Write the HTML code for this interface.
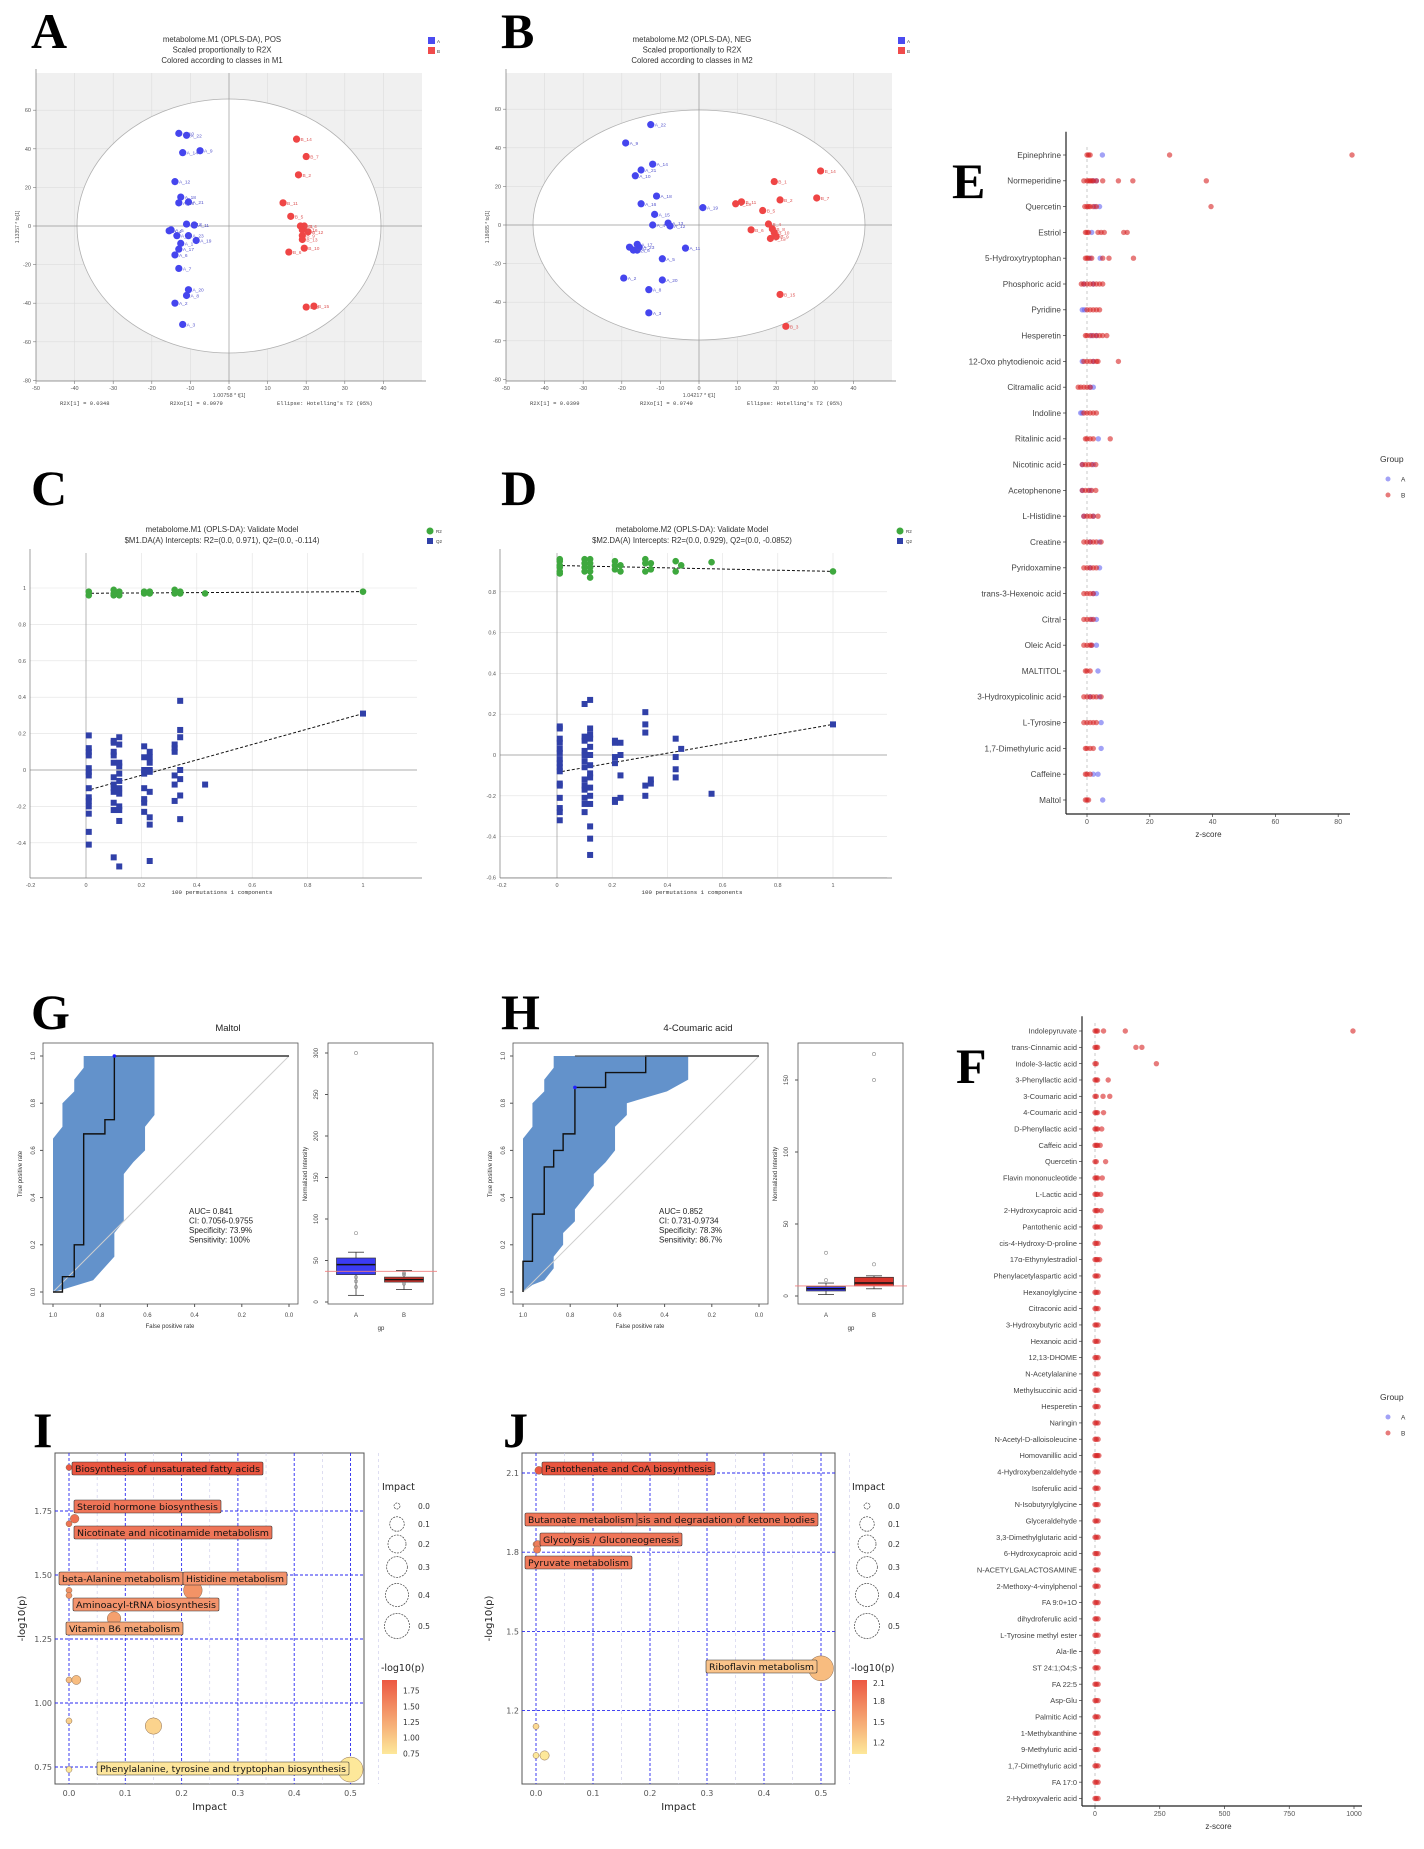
<!DOCTYPE html>
<html><head><meta charset="utf-8">
<style>
html,body{margin:0;padding:0;background:#fff;}
svg{display:block;font-family:"Liberation Sans",sans-serif;}
.mono{font-family:"Liberation Mono",monospace;}
.dj{font-family:"DejaVu Sans","Liberation Sans",sans-serif;}
.letter{font-family:"Liberation Serif",serif;font-weight:bold;font-size:50px;fill:#000;}
</style></head>
<body>
<svg id="fig" width="1424" height="1849" viewBox="0 0 1424 1849" xmlns="http://www.w3.org/2000/svg">
<text class="letter" x="31" y="48">A</text>
<text class="letter" x="501" y="48">B</text>
<text class="letter" x="31" y="505">C</text>
<text class="letter" x="501" y="505">D</text>
<text class="letter" x="952" y="198">E</text>
<text class="letter" x="956" y="1083">F</text>
<text class="letter" x="31" y="1029">G</text>
<text class="letter" x="501" y="1029">H</text>
<text class="letter" x="33" y="1447">I</text>
<text class="letter" x="503" y="1447">J</text>
</svg>
<script>
// ===== Panel A data (scores, POS) =====
const aLabelsA=["A_10","A_22","A_14","A_9","A_12","A_18","A_15","A_21","A_13","A_5","A_11","A_4","A_23","A_16","A_19","A_1","A_17","A_6","A_7","A_20","A_8","A_2","A_3"];
const aXA=[-13,-11,-12,-7.5,-14,-12.5,-13,-10.5,-11,-15,-9,-15.5,-10.5,-13.5,-8.5,-12.5,-13,-14,-13,-10.5,-11,-14,-12];
const aYA=[48,47,38,39,23,15,12,12.5,1,-2,0.5,-2.5,-5,-5,-7.5,-9,-12,-15,-22,-33,-36,-40,-51];
const aLabelsB=["B_14","B_7","B_2","B_11","B_5","B_4","B_1","B_16","B_12","B_9","B_13","B_10","B_6","B_3","B_15"];
const aXB=[17.5,20,18,14,16,19.5,18.5,19,20.5,19,19,19.5,15.5,20,22];
const aYB=[45,36,26.5,12,5,0,0,-2,-3,-5,-7,-11.5,-13.5,-42,-41.5];
// ===== Panel B data (scores, NEG) =====
const bLabelsA=["A_22","A_9","A_14","A_21","A_10","A_18","A_16","A_15","A_13","A_4","A_12","A_19","A_17","A_1","A_23","A_6","A_7","A_11","A_5","A_2","A_20","A_8","A_3"];
const bXA=[-12.5,-19,-12,-15,-16.5,-11,-15,-11.5,-8,-12,-7.5,1,-16,-18,-15.5,-16,-17,-3.5,-9.5,-19.5,-9.5,-13,-13];
const bYA=[52,42.5,31.5,28.5,25.5,15,11,5.5,1,0,-0.5,9,-10,-11.5,-11.5,-13,-13,-12,-17.5,-27.5,-28.5,-33.5,-45.5];
const bLabelsB=["B_14","B_1","B_2","B_7","B_13","B_11","B_5","B_4","B_6","B_8","B_10","B_9","B_12","B_15","B_3"];
const bXB=[31.5,19.5,21,30.5,9.5,11,16.5,18,13.5,19,19.5,20,18.5,21,22.5];
const bYB=[28,22.5,13,14,11,12,7.5,0.5,-2.5,-2,-4,-6,-7,-36,-52.5];
// ===== Panel C data (permutation, M1) =====
const cR2x=[0.01,0.01,0.1,0.1,0.1,0.12,0.12,0.21,0.21,0.23,0.23,0.32,0.32,0.34,0.34,0.43,1];
const cR2y=[0.98,0.96,0.99,0.97,0.96,0.98,0.96,0.98,0.97,0.98,0.97,0.99,0.97,0.98,0.97,0.97,0.98];
const cQ2x=[0.01,0.01,0.01,0.01,0.01,0.01,0.01,0.01,0.01,0.01,0.01,0.01,0.01,0.01,
 0.1,0.1,0.1,0.1,0.1,0.1,0.1,0.1,0.1,0.1,0.1,0.1,
 0.12,0.12,0.12,0.12,0.12,0.12,0.12,0.12,0.12,0.12,0.12,0.12,
 0.21,0.21,0.21,0.21,0.21,0.21,0.21,0.21,
 0.23,0.23,0.23,0.23,0.23,0.23,0.23,0.23,0.23,
 0.32,0.32,0.32,0.32,0.32,0.32,
 0.34,0.34,0.34,0.34,0.34,0.34,0.34,0.43,1];
const cQ2y=[0.19,0.12,0.1,0.08,0.01,-0.01,-0.03,-0.1,-0.15,-0.17,-0.2,-0.24,-0.34,-0.41,
 0.16,0.15,0.1,0.08,0.04,-0.04,-0.08,-0.1,-0.12,-0.18,-0.22,-0.48,
 0.18,0.14,0.04,0.02,-0.02,-0.06,-0.1,-0.13,-0.2,-0.22,-0.28,-0.53,
 0.13,0.07,0,-0.02,-0.1,-0.16,-0.18,-0.23,
 0.1,0.07,0.04,0,-0.01,-0.12,-0.26,-0.3,-0.5,
 0.14,0.12,0.1,-0.03,-0.08,-0.17,
 0.38,0.22,0.18,0,-0.05,-0.14,-0.27,-0.08,0.31];
const cR2line=[0.971,0.98], cQ2line=[-0.114,0.31];
// ===== Panel D data (permutation, M2) =====
const dR2x=[0.01,0.01,0.01,0.01,0.01,0.01,0.1,0.1,0.1,0.1,0.12,0.12,0.12,0.12,0.12,0.21,0.21,0.21,0.23,0.23,0.32,0.32,0.32,0.34,0.34,0.43,0.43,0.45,0.56,1];
const dR2y=[0.96,0.95,0.93,0.92,0.9,0.89,0.96,0.94,0.92,0.9,0.96,0.94,0.92,0.9,0.87,0.95,0.93,0.91,0.93,0.9,0.96,0.94,0.9,0.94,0.91,0.95,0.9,0.93,0.945,0.9];
const dQ2x=[0.01,0.01,0.01,0.01,0.01,0.01,0.01,0.01,0.01,0.01,0.01,0.01,0.01,0.01,0.01,0.01,
 0.1,0.1,0.1,0.1,0.1,0.1,0.1,0.1,0.1,0.1,0.1,0.1,0.1,
 0.12,0.12,0.12,0.12,0.12,0.12,0.12,0.12,0.12,0.12,0.12,0.12,0.12,0.12,0.12,
 0.21,0.21,0.21,0.21,0.21,0.21,0.23,0.23,0.23,0.23,
 0.32,0.32,0.32,0.32,0.32,0.34,0.34,0.43,0.43,0.43,0.43,0.45,0.56,1];
const dQ2y=[0.14,0.13,0.08,0.06,0.03,0.01,-0.02,-0.04,-0.06,-0.08,-0.14,-0.15,-0.21,-0.26,-0.28,-0.32,
 0.25,0.09,0.07,0.02,0,-0.03,-0.06,-0.12,-0.15,-0.17,-0.21,-0.24,-0.28,
 0.27,0.13,0.1,0.08,0.04,0,-0.05,-0.09,-0.11,-0.16,-0.2,-0.24,-0.35,-0.41,-0.49,
 0.07,0.06,-0.01,-0.04,-0.22,-0.23,0.06,0,-0.1,-0.21,
 0.21,0.15,0.11,-0.15,-0.2,-0.12,-0.14,0.08,-0.01,-0.07,-0.11,0.03,-0.19,0.15];
const dR2line=[0.929,0.9], dQ2line=[-0.0852,0.15];
// ===== Panel E data =====
const eNames=["Epinephrine","Normeperidine","Quercetin","Estriol","5-Hydroxytryptophan","Phosphoric acid","Pyridine","Hesperetin","12-Oxo phytodienoic acid","Citramalic acid","Indoline","Ritalinic acid","Nicotinic acid","Acetophenone","L-Histidine","Creatine","Pyridoxamine","trans-3-Hexenoic acid","Citral","Oleic Acid","MALTITOL","3-Hydroxypicolinic acid","L-Tyrosine","1,7-Dimethyluric acid","Caffeine","Maltol"];
const eB=[[0,0.5,1,26.3,84.4],[-1,0,0.5,1,1.5,2,3,5,10,14.6,38],[-0.7,0,0.5,1,2,3,39.5],[-0.5,0,0.5,3.5,4.5,5.5,11.7,12.8],[-0.5,0,0.5,1.5,5,7,14.8],[-1.8,-1,0,1,2,3,4,5],[0,1,2,3,4],[-0.5,0,1,2,3,4,5,6.3],[-1,0,1,2,3,3.5,10],[-2.8,-2,-1,0,1],[-1,0,1,2,3],[-0.5,0,1,2,7.4],[-1.5,-0.5,0.5,1.5,2.8],[-1.5,-0.5,0.5,1.5,2.8],[-1,0,1,2,3.5],[-1,0,1,2,3,4.5],[-1,0,1,2,3],[-1,0,1,2],[-1,0,1,2],[-1,0,1,1.5],[-0.5,0,1],[-1,0,1,2,3,4.5],[-1,0,1,2,3],[-0.5,0,1,2],[-0.5,0,1],[-0.5,0,0.5]];
const eA=[[4.9],[2,3],[2.5,4],[1.5],[1,4.2],[-1,2],[-1.5,-0.8],[1.5,3],[-1.5,2],[1,2],[-2,-1.5],[3.6],[-1.5,2],[-1.5,1],[-1,2],[1,4],[1,4],[2,3],[1.5,3],[1.5,3],[3.5],[1,4],[4.5],[4.5],[2,3.5],[5]];
const eTicks=[0,20,40,60,80];
// ===== Panel F data =====
const fNames=["Indolepyruvate","trans-Cinnamic acid","Indole-3-lactic acid","3-Phenyllactic acid","3-Coumaric acid","4-Coumaric acid","D-Phenyllactic acid","Caffeic acid","Quercetin","Flavin mononucleotide","L-Lactic acid","2-Hydroxycaproic acid","Pantothenic acid","cis-4-Hydroxy-D-proline","17α-Ethynylestradiol","Phenylacetylaspartic acid","Hexanoylglycine","Citraconic acid","3-Hydroxybutyric acid","Hexanoic acid","12,13-DHOME","N-Acetylalanine","Methylsuccinic acid","Hesperetin","Naringin","N-Acetyl-D-alloisoleucine","Homovanillic acid","4-Hydroxybenzaldehyde","Isoferulic acid","N-Isobutyrylglycine","Glyceraldehyde","3,3-Dimethylglutaric acid","6-Hydroxycaproic acid","N-ACETYLGALACTOSAMINE","2-Methoxy-4-vinylphenol","FA 9:0+1O","dihydroferulic acid","L-Tyrosine methyl ester","Ala-Ile","ST 24:1;O4;S","FA 22:5","Asp-Glu","Palmitic Acid","1-Methylxanthine","9-Methyluric acid","1,7-Dimethyluric acid","FA 17:0","2-Hydroxyvaleric acid"];
const fB=[[0,5,10,33,117,996],[0,5,10,158,181],[0,5,237],[0,5,10,51],[0,5,31,57],[0,5,10,33],[0,5,10,26],[0,5,10,20],[0,5,41],[0,5,10,28],[0,5,10,22],[0,5,10,24],[0,5,10,20],[0,5,12],[0,5,10,18],[0,5,12],[0,5,12],[0,5,12],[0,5,12],[0,5,12],[0,5,12],[0,5,12],[0,5,12],[0,5,12],[0,5,12],[0,5,12],[0,5,10,15],[0,5,12],[0,5,12],[0,5,12],[0,5,12],[0,5,12],[0,5,12],[0,5,12],[0,5,12],[0,5,12],[0,5,12],[0,5,12],[0,5,12],[0,5,12],[0,5,12],[0,5,12],[0,5,12],[0,5,12],[0,5,12],[0,5,12],[0,5,12],[0,5,12]];
const fTicks=[0,250,500,750,1000];
// ===== Panel G / H data (ROC + boxplot) =====
const gRocSpec=[1,0.96,0.96,0.91,0.91,0.87,0.87,0.78,0.78,0.74,0.74,0];
const gRocSens=[0,0,0.065,0.065,0.2,0.2,0.67,0.67,0.73,0.73,1,1];
const gBandSpec=[1,1,0.96,0.96,0.91,0.91,0.87,0.87,0.57,0.57,0.61,0.61,0.66,0.7,0.7,0.74,0.74,0.83,0.96,1];
const gBandSens=[0,0.65,0.7,0.8,0.85,0.9,0.95,1,1,0.75,0.7,0.6,0.55,0.5,0.3,0.25,0.15,0.05,0.01,0];
const gBest=[0.74,1];
const gBoxA=[8,33,45,53,60], gBoxB=[15,24,27,30,38], gOutA=[83,300,30,25,18], gOutB=[35,33,22], gCut=37;
const hRocSpec=[1,1,0.96,0.96,0.91,0.91,0.87,0.87,0.83,0.83,0.78,0.78,0.65,0.65,0.48,0.48,0];
const hRocSens=[0,0.13,0.13,0.33,0.33,0.53,0.53,0.6,0.6,0.67,0.67,0.867,0.867,0.93,0.93,1,1];
const hBandSpec=[1,1,0.96,0.96,0.91,0.91,0.87,0.87,0.3,0.3,0.39,0.56,0.56,0.61,0.61,0.65,0.7,0.7,0.74,0.78,0.78,0.83,0.83,0.87,0.87,0.91,0.96,1];
const hBandSens=[0,0.65,0.7,0.8,0.85,0.9,0.95,1,1,0.9,0.85,0.8,0.75,0.7,0.6,0.55,0.5,0.45,0.4,0.35,0.3,0.25,0.2,0.15,0.1,0.05,0.03,0];
const hBest=[0.78,0.867];
const hBoxA=[1,3.5,5,6.5,9], hBoxB=[5,7,9,13,14], hOutA=[30,11], hOutB=[22,150,168], hCut=7;
// ===== Panel I / J data (pathway bubbles) =====
const iImpact=[0,0.01,0,0,0.22,0,0.08,0,0.013,0,0.15,0,0.5];
const iLogp=[1.92,1.72,1.70,1.44,1.44,1.42,1.33,1.09,1.09,0.93,0.91,0.74,0.74];
const jImpact=[0.005,0,0.003,0.002,0.5,0,0,0.015];
const jLogp=[2.11,1.83,1.83,1.81,1.36,1.14,1.03,1.03];

const NS="http://www.w3.org/2000/svg";
const svg=document.getElementById('fig');
function mk(tag,attrs,parent){const e=document.createElementNS(NS,tag);for(const k in attrs)e.setAttribute(k,attrs[k]);(parent||svg).appendChild(e);return e;}
function tx(x,y,s,size,attrs){const e=mk('text',Object.assign({x:x,y:y,'font-size':size},attrs||{}));e.textContent=s;return e;}
function grp(){return mk('g',{});}

// ---------- Scores plots ----------
function scores(ox,cy,rx,ry,ecx,LA,XA,YA,LB,XB,YB,titles,ylab,xlab,foot,key){
  const x0=ox+229-(ox===0?0:0), xs=v=>ox+229+(ox?-0:0)+v*3.86-(ox?0:0);
  const X=v=>ecx+v*3.86, Y=v=>cy-v*1.93;
  const L=X(-50),R=X(50),T=73,B=381;
  const g=grp();
  
  
  mk('rect',{x:L,y:T,width:R-L,height:B-T,fill:'#f0f0f0'},g);
  for(let v=-40;v<=40;v+=10){mk('line',{x1:X(v),x2:X(v),y1:T,y2:B,stroke:'#dcdcdc','stroke-width':0.6},g);}
  for(let v=-60;v<=60;v+=20){mk('line',{x1:L,x2:R,y1:Y(v),y2:Y(v),stroke:'#dcdcdc','stroke-width':0.6},g);}
  const el=mk('ellipse',{cx:X(0),cy:cy,rx:rx,ry:ry,fill:'#fff',stroke:'#b0b0b0','stroke-width':0.8},g);
  
  
  mk('line',{x1:X(0),x2:X(0),y1:T,y2:B,stroke:'#999','stroke-width':0.7},g);
  mk('line',{x1:L,x2:R,y1:Y(0),y2:Y(0),stroke:'#999','stroke-width':0.7},g);
  mk('line',{x1:L,x2:L,y1:T-4,y2:B,stroke:'#777','stroke-width':0.7},g);
  mk('line',{x1:L,x2:R+4,y1:B,y2:B,stroke:'#777','stroke-width':0.7},g);
  for(let v=-50;v<=40;v+=10){mk('line',{x1:X(v),x2:X(v),y1:B,y2:B+3,stroke:'#777','stroke-width':0.6},g);tx(X(v),B+9,String(v),5.5,{'text-anchor':'middle',fill:'#555'});}
  for(let v=-80;v<=60;v+=20){mk('line',{x1:L-3,x2:L,y1:Y(v),y2:Y(v),stroke:'#777','stroke-width':0.6},g);tx(L-5,Y(v)+2,String(v),5.5,{'text-anchor':'end',fill:'#555'});}
  titles.forEach((t,i)=>{const e=tx(ox+222,42+i*10.5,t,7.8,{'text-anchor':'middle',fill:'#333'});});
  const yl=tx(0,0,ylab,5,{'text-anchor':'middle',fill:'#555',transform:'translate('+(ox+19)+',227) rotate(-90)'});
  
  const xl=tx(ox+229,397,xlab,5.5,{'text-anchor':'middle',fill:'#555'});
  
  foot.forEach((f,i)=>{const e=tx(ox+[60,170,277][i],405,f,5.5,{class:'mono',fill:'#444'});});
  [['#4b4bf0','A',37],['#f04b4b','B',47]].forEach(c=>{const r=mk('rect',{x:ox+428,y:c[2],width:7,height:7,fill:c[0]});tx(ox+437,c[2]+6,c[1],4.5,{fill:'#333'});});
  function pts(Ls,Xs,Ys,col,grpname){Ls.forEach((l,i)=>{const c=mk('circle',{cx:X(Xs[i]),cy:Y(Ys[i]),r:3.6,fill:col},g);
    
    
    tx(X(Xs[i])+4,Y(Ys[i])+2,l,4.8,{fill:col==='#4545ee'?'#5555cc':'#dd5555'});});}
  pts(LA,XA,YA,'#4545ee','group-a');pts(LB,XB,YB,'#ef4545','group-b');
}
scores(0,226,152,127,229,aLabelsA,aXA,aYA,aLabelsB,aXB,aYB,["metabolome.M1 (OPLS-DA), POS","Scaled proportionally to R2X","Colored according to classes in M1"],"1.13357 * to[1]","1.00758 * t[1]",["R2X[1] = 0.0348","R2Xo[1] = 0.0979","Ellipse: Hotelling's T2 (95%)"],'a');
scores(470,225,166,115,699,bLabelsA,bXA,bYA,bLabelsB,bXB,bYB,["metabolome.M2 (OPLS-DA), NEG","Scaled proportionally to R2X","Colored according to classes in M2"],"1.18685 * to[1]","1.04217 * t[1]",["R2X[1] = 0.0399","R2Xo[1] = 0.0749","Ellipse: Hotelling's T2 (95%)"],'b');

// ---------- Permutation plots ----------
function perm(ox,x0,kx,y0,ky,R2x,R2y,Q2x,Q2y,r2l,q2l,titles,key){
  const X=v=>x0+v*kx, Y=v=>y0-v*ky;
  const L=ox+30,R=ox+417,T=553,B=878;
  const g=grp();
  
  
  for(let v=-0.6;v<=1.21;v+=0.2){const y=Y(v);if(y>=T&&y<=B)mk('line',{x1:L,x2:R,y1:y,y2:y,stroke:'#e2e2e2','stroke-width':0.6},g);}
  for(let v=0.2;v<=1.01;v+=0.2){mk('line',{x1:X(v),x2:X(v),y1:T,y2:B,stroke:'#e2e2e2','stroke-width':0.6},g);}
  mk('line',{x1:X(0),x2:X(0),y1:T,y2:B,stroke:'#999','stroke-width':0.7},g);
  mk('line',{x1:L,x2:R,y1:Y(0),y2:Y(0),stroke:'#999','stroke-width':0.7},g);
  mk('line',{x1:L,x2:L,y1:T-4,y2:B,stroke:'#777','stroke-width':0.7},g);
  mk('line',{x1:L,x2:R+5,y1:B,y2:B,stroke:'#777','stroke-width':0.7},g);
  [-0.2,0,0.2,0.4,0.6,0.8,1].forEach(v=>{tx(X(v),B+9,String(v),5.5,{'text-anchor':'middle',fill:'#555'});});
  for(let k=-3;k<=6;k++){const v=k*0.2,y=Y(v);if(y>=T-1&&y<=B+1){tx(L-4,y+2,String(Math.round(v*10)/10),5.5,{'text-anchor':'end',fill:'#555'});}}
  titles.forEach((t,i)=>{const e=tx(ox+222,532+i*11,t,7.8,{'text-anchor':'middle',fill:'#333'});});
  tx(ox+222,894,"100 permutations 1 components",5.8,{'text-anchor':'middle',class:'mono',fill:'#333'});
  const l1=mk('line',{x1:X(0),y1:Y(r2l[0]),x2:X(1),y2:Y(r2l[1]),stroke:'#111','stroke-width':1,'stroke-dasharray':'3,2'},g);
  
  const l2=mk('line',{x1:X(0),y1:Y(q2l[0]),x2:X(1),y2:Y(q2l[1]),stroke:'#111','stroke-width':1,'stroke-dasharray':'3,2'},g);
  
  R2x.forEach((x,i)=>{const c=mk('circle',{cx:X(x),cy:Y(R2y[i]),r:3.3,fill:'#3ea83e'},g);
    
    });
  Q2x.forEach((x,i)=>{const c=mk('rect',{x:X(x)-3,y:Y(Q2y[i])-3,width:6,height:6,fill:'#3040a8'},g);
    
    });
  const a=mk('circle',{cx:ox+430,cy:531,r:3.5,fill:'#3ea83e'});
  tx(ox+436,533,'R2',4.5,{fill:'#333'});
  const b=mk('rect',{x:ox+427,y:538,width:6,height:6,fill:'#3040a8'});
  tx(ox+436,543,'Q2',4.5,{fill:'#333'});
}
perm(0,86,277,770,182,cR2x,cR2y,cQ2x,cQ2y,cR2line,cQ2line,["metabolome.M1 (OPLS-DA): Validate Model","$M1.DA(A) Intercepts: R2=(0.0, 0.971), Q2=(0.0, -0.114)"],'c');
perm(470,557,276,755,204,dR2x,dR2y,dQ2x,dQ2y,dR2line,dQ2line,["metabolome.M2 (OPLS-DA): Validate Model","$M2.DA(A) Intercepts: R2=(0.0, 0.929), Q2=(0.0, -0.0852)"],'d');

// ---------- Z-score dot plots ----------
function zplot(names,Bv,Av,ticks,x0,kx,y0,dy,axisX,axisEnd,axisY,labSize,key,legY){
  const X=v=>x0+v*kx;
  const g=grp();
  
  
  const yEnd=y0+(names.length-1)*dy;
  mk('line',{x1:X(0),x2:X(0),y1:y0-8,y2:axisY,stroke:'#bbb','stroke-width':0.8,'stroke-dasharray':'3,3'},g);
  mk('line',{x1:axisX,x2:axisX,y1:y0-dy*0.9,y2:axisY,stroke:'#222','stroke-width':1.2},g);
  mk('line',{x1:axisX,x2:axisEnd,y1:axisY,y2:axisY,stroke:'#222','stroke-width':1.2},g);
  names.forEach((n,i)=>{const y=y0+i*dy;
    const t=tx(axisX-5,y+labSize*0.35,n,labSize,{'text-anchor':'end',fill:'#444'});
    
    
    mk('line',{x1:axisX-3,x2:axisX,y1:y,y2:y,stroke:'#333','stroke-width':0.7},g);
    Av[i].forEach(v=>{const c=mk('circle',{cx:X(v),cy:y,r:2.7,fill:'rgba(100,100,240,0.6)'},g);
      
      });
    Bv[i].forEach(v=>{const c=mk('circle',{cx:X(v),cy:y,r:2.7,fill:'rgba(215,35,35,0.6)'},g);
      
      });
  });
  ticks.forEach(v=>{mk('line',{x1:X(v),x2:X(v),y1:axisY,y2:axisY+3,stroke:'#333','stroke-width':0.7},g);
    const t=tx(X(v),axisY+10,String(v),7,{'text-anchor':'middle',fill:'#555'});});
  tx((X(0)+axisEnd)/2-10,axisY+23,'z-score',8,{'text-anchor':'middle',fill:'#333'});
  tx(1380,legY,'Group',8.5,{fill:'#333'});
  const a=mk('circle',{cx:1388,cy:legY+17,r:2.5,fill:'rgba(100,100,240,0.6)'});
  tx(1401,legY+19.5,'A',6.5,{fill:'#333'});
  const b=mk('circle',{cx:1388,cy:legY+33,r:2.5,fill:'rgba(215,35,35,0.6)'});
  tx(1401,legY+35.5,'B',6.5,{fill:'#333'});
}
zplot(eNames,eB,eA,eTicks,1087,3.14,155,25.8,1066,1350,814,8.2,'e',462);
zplot(fNames,fB,fB.map(()=>[]),fTicks,1095,0.259,1031,16.33,1082,1362,1806,7.4,'f',1400);

// ---------- ROC + box ----------
function roc(ox,title,spec,sens,bSpec,bSens,best,stats,boxA,boxB,outA,outB,cut,bY0,bK,bTicks,key){
  const X=s=>ox+53+(1-s)*236, Y=v=>1292-v*236;
  const g=grp();
  
  
  mk('rect',{x:ox+43,y:1043,width:255,height:261,fill:'none',stroke:'#555','stroke-width':0.8},g);
  const band=mk('polygon',{points:bSpec.map((s,i)=>X(s)+','+Y(bSens[i])).join(' '),fill:'#6392cb'},g);
  
  
  mk('line',{x1:X(1),y1:Y(0),x2:X(0),y2:Y(1),stroke:'#cfcfcf','stroke-width':1},g);
  const curve=mk('polyline',{points:spec.map((s,i)=>X(s)+','+Y(sens[i])).join(' '),fill:'none',stroke:'#111','stroke-width':1.4},g);
  
  
  mk('line',{x1:X(best[0]),y1:Y(1),x2:X(0),y2:Y(1),stroke:'#555','stroke-width':1.2},g);
  const bd=mk('circle',{cx:X(best[0]),cy:Y(best[1]),r:1.8,fill:'#2020ff'},g);
  
  [1,0.8,0.6,0.4,0.2,0].forEach(s=>{mk('line',{x1:X(s),x2:X(s),y1:1304,y2:1307,stroke:'#555'},g);tx(X(s),1317,s.toFixed(1),6,{'text-anchor':'middle',fill:'#444'});});
  [0,0.2,0.4,0.6,0.8,1].forEach(v=>{mk('line',{x1:ox+40,x2:ox+43,y1:Y(v),y2:Y(v),stroke:'#555'},g);tx(0,0,v.toFixed(1),6,{'text-anchor':'middle',fill:'#444',transform:'translate('+(ox+35)+','+Y(v)+') rotate(-90)'});});
  tx(0,0,'True positive rate',6,{'text-anchor':'middle',fill:'#333',transform:'translate('+(ox+22)+',1174) rotate(-90)'});
  tx(ox+170,1328,'False positive rate',6,{'text-anchor':'middle',fill:'#333'});
  const tt=tx(ox+228,1031,title,9.5,{'text-anchor':'middle',fill:'#222'});
  stats.forEach((s,i)=>{tx(ox+189,1214+i*9.5,s,8,{fill:'#222'});});
  // box plot
  const bg=grp();
  
  
  const BY=v=>bY0-v*bK;
  mk('rect',{x:ox+328,y:1043,width:105,height:261,fill:'none',stroke:'#555','stroke-width':0.8},bg);
  bTicks.forEach(v=>{mk('line',{x1:ox+325,x2:ox+328,y1:BY(v),y2:BY(v),stroke:'#555'},bg);tx(0,0,String(v),6,{'text-anchor':'middle',fill:'#444',transform:'translate('+(ox+318)+','+BY(v)+') rotate(-90)'});});
  tx(0,0,'Normalized Intensity',6,{'text-anchor':'middle',fill:'#333',transform:'translate('+(ox+307)+',1174) rotate(-90)'});
  [[boxA,outA,ox+356,'#3b3bf5','A'],[boxB,outB,ox+404,'#d8342c','B']].forEach(b=>{const s=b[0],cx=b[2];
    mk('line',{x1:cx,x2:cx,y1:BY(s[0]),y2:BY(s[4]),stroke:'#333','stroke-width':0.8},bg);
    mk('line',{x1:cx-8,x2:cx+8,y1:BY(s[0]),y2:BY(s[0]),stroke:'#333','stroke-width':0.8},bg);
    mk('line',{x1:cx-8,x2:cx+8,y1:BY(s[4]),y2:BY(s[4]),stroke:'#333','stroke-width':0.8},bg);
    const r=mk('rect',{x:cx-19.5,y:BY(s[3]),width:39,height:Math.max(2,BY(s[1])-BY(s[3])),fill:b[3],stroke:'#333','stroke-width':0.7},bg);
    
    
    mk('line',{x1:cx-19.5,x2:cx+19.5,y1:BY(s[2]),y2:BY(s[2]),stroke:'#111','stroke-width':1.5},bg);
    b[1].forEach(v=>{const o=mk('circle',{cx:cx,cy:BY(v),r:1.6,fill:'none',stroke:'#888','stroke-width':0.6},bg);});
    tx(cx,1317,b[4],6,{'text-anchor':'middle',fill:'#444'});});
  mk('line',{x1:ox+325,x2:ox+437,y1:BY(cut),y2:BY(cut),stroke:'#f08080','stroke-width':0.8},bg);
  tx(ox+381,1330,'gp',6,{'text-anchor':'middle',fill:'#333'});
}
roc(0,'Maltol',gRocSpec,gRocSens,gBandSpec,gBandSens,gBest,["AUC= 0.841","CI: 0.7056-0.9755","Specificity: 73.9%","Sensitivity: 100%"],gBoxA,gBoxB,gOutA,gOutB,gCut,1302,0.83,[0,50,100,150,200,250,300],'g');
roc(470,'4-Coumaric acid',hRocSpec,hRocSens,hBandSpec,hBandSens,hBest,["AUC= 0.852","CI: 0.731-0.9734","Specificity: 78.3%","Sensitivity: 86.7%"],hBoxA,hBoxB,hOutA,hOutB,hCut,1296,1.44,[0,50,100,150],'h');

// ---------- Pathway bubble plots ----------
function lerpCol(t){t=Math.max(0,Math.min(1,t));const a=[253,232,154],b=[236,88,66];return 'rgb('+a.map((v,i)=>Math.round(v+(b[i]-v)*t)).join(',')+')';}
function rad(im){return 3+Math.sqrt(im/0.5)*9.5;}
function bubble(ox,L,R,T,B,X,Y,xt,yt,ytl,imp,lp,lpMin,lpMax,labels,cbTicks,key){
  const g=grp();
  
  
  mk('rect',{x:L,y:T,width:R-L,height:B-T,fill:'#fff',stroke:'#555','stroke-width':1},g);
  xt.forEach(v=>{mk('line',{x1:X(v+0.05),x2:X(v+0.05),y1:T,y2:B,stroke:'#c8c8e8','stroke-width':0.6,'stroke-dasharray':'3,3'},g);});
  yt.forEach(v=>{mk('line',{x1:L,x2:R,y1:Y(v),y2:Y(v),stroke:'#2a2af0','stroke-width':0.9,'stroke-dasharray':'3,2'},g);
    tx(L-3,Y(v)+3,ytl(v),8,{'text-anchor':'end',fill:'#555',class:'dj'});});
  xt.forEach(v=>{mk('line',{x1:X(v),x2:X(v),y1:T,y2:B,stroke:'#2a2af0','stroke-width':0.9,'stroke-dasharray':'3,2'},g);
    tx(X(v),B+12,v.toFixed(1),8,{'text-anchor':'middle',fill:'#555',class:'dj'});});
  tx((L+R)/2,B+26,'Impact',10,{'text-anchor':'middle',fill:'#222',class:'dj'});
  tx(0,0,'-log10(p)',10,{'text-anchor':'middle',fill:'#222',class:'dj',transform:'translate('+(L-30)+','+((T+B)/2)+') rotate(-90)'});
  imp.forEach((v,i)=>{const c=mk('circle',{cx:X(v),cy:Y(lp[i]),r:rad(v),fill:lerpCol((lp[i]-lpMin)/(lpMax-lpMin)),stroke:'#8a6a50','stroke-width':0.5},g);
    
    });
  labels.forEach(l=>{const r=mk('rect',{x:l[1],y:l[2],width:l[3],height:13,fill:l[4],stroke:'#333','stroke-width':0.6,rx:1.5},g);
    
    
    const t=tx(l[1]+3,l[2]+10,l[0],8.6,{fill:'#111',class:'dj',textLength:l[3]-6,lengthAdjust:'spacingAndGlyphs'});
    
    });
  // legends
  const lx=ox+397;
  tx(ox+382,1490,'Impact',9.5,{fill:'#222',class:'dj'});
  [0,0.1,0.2,0.3,0.4,0.5].forEach((v,i)=>{const cy=[1506,1524,1544,1567,1595,1626][i];
    const c=mk('circle',{cx:lx,cy:cy,r:rad(v),fill:'none',stroke:'#444','stroke-width':0.7,'stroke-dasharray':'2,1'});
    
    
    tx(ox+418,cy+3,v.toFixed(1),7.5,{fill:'#333',class:'dj'});});
  tx(ox+381,1671,'-log10(p)',9.5,{fill:'#222',class:'dj'});
  const gid='cb'+key;
  const defs=mk('defs',{});const lg=mk('linearGradient',{id:gid,x1:0,y1:1,x2:0,y2:0},defs);
  mk('stop',{offset:0,'stop-color':lerpCol(0)},lg);mk('stop',{offset:1,'stop-color':lerpCol(1)},lg);
  const cb=mk('rect',{x:ox+382,y:1680,width:15,height:74,fill:'url(#'+gid+')'});
  
  
  cbTicks.forEach(t=>{const y=1754-(t[0]-lpMin)/(lpMax-lpMin)*74;tx(ox+403,Math.max(1686,Math.min(1757,y+3)),t[1],7.5,{fill:'#333',class:'dj'});});
}
const iX=v=>69+v*563, iY=v=>1511-(v-1.75)*256;
bubble(0,55,364,1453,1784,iX,iY,[0,0.1,0.2,0.3,0.4,0.5],[0.75,1,1.25,1.5,1.75],v=>v.toFixed(2),iImpact,iLogp,0.74,1.92,[
 ["Biosynthesis of unsaturated fatty acids",72,1462,191,'#e9553f'],
 ["Steroid hormone biosynthesis",74,1500,147,'#ef7558'],
 ["Nicotinate and nicotinamide metabolism",74,1526,198,'#ef7558'],
 ["beta-Alanine metabolism",59,1572,124,'#f3936c'],
 ["Histidine metabolism",183,1572,104,'#f3936c'],
 ["Aminoacyl-tRNA biosynthesis",73,1598,146,'#f3936c'],
 ["Vitamin B6 metabolism",66,1622,117,'#f5a577'],
 ["Phenylalanine, tyrosine and tryptophan biosynthesis",97,1762,252,'#fde59b']],
 [[1.75,'1.75'],[1.5,'1.50'],[1.25,'1.25'],[1.0,'1.00'],[0.75,'0.75']],'i');
const jX=v=>536+v*570, jY=v=>1473-(v-2.1)*264;
bubble(470,522,835,1453,1784,jX,jY,[0,0.1,0.2,0.3,0.4,0.5],[1.2,1.5,1.8,2.1],v=>v.toFixed(1),jImpact,jLogp,1.03,2.11,[
 ["Pantothenate and CoA biosynthesis",542,1462,173,'#e9553f'],
 ["sis and degradation of ketone bodies",635,1513,183,'#ef7558'],
 ["Butanoate metabolism",525,1513,112,'#ef7558'],
 ["Glycolysis / Gluconeogenesis",540,1533,142,'#ef7558'],
 ["Pyruvate metabolism",525,1556,107,'#f07a5a'],
 ["Riboflavin metabolism",706,1660,111,'#f9c38a']],
 [[2.1,'2.1'],[1.8,'1.8'],[1.5,'1.5'],[1.2,'1.2']],'j');
</script>
</body></html>
